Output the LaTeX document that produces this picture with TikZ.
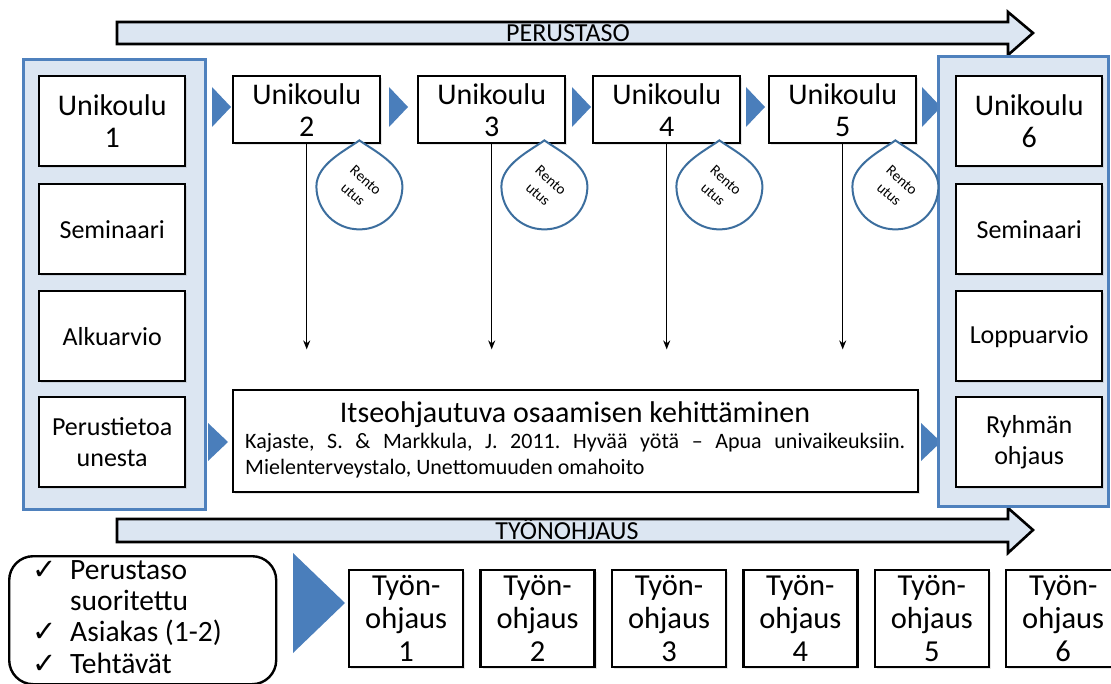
\documentclass[tikz,border=0pt]{standalone}
\usepackage{fontspec}
\setmainfont{Carlito}
\newfontfamily\checkfont{DejaVu Sans}
\usetikzlibrary{positioning,calc,arrows.meta,shadows}

\definecolor{paleblue}{HTML}{DCE6F2}
\definecolor{frameblue}{HTML}{4F81BD}
\definecolor{wedgeblue}{HTML}{4A7EBB}
\definecolor{dropblue}{HTML}{3C6E9E}

\newcommand{\fbig}{\fontsize{30}{32}\selectfont}
\newcommand{\fmid}{\fontsize{26}{31}\selectfont}
\newcommand{\fsmall}{\fontsize{22}{26}\selectfont}
\newcommand{\ftiny}{\fontsize{15}{19}\selectfont}
\newcommand{\tick}{\makebox[20pt][l]{\checkfont\fontsize{29}{29}\selectfont ✓}}

\begin{document}
\frenchspacing
\begin{tikzpicture}[x=1pt,y=-1pt]
\useasboundingbox (0,0) rectangle (1111,684);
\tikzstyle{every node}=[inner sep=0pt]
\tikzstyle{box}=[draw,line width=2.4pt,fill=white,align=center,anchor=north west,
  drop shadow={opacity=.2,shadow xshift=2pt,shadow yshift=-2pt}]
\tikzstyle{panel}=[draw=frameblue,line width=3pt,fill=paleblue]
\tikzstyle{band}=[draw,line width=2.6pt,fill=paleblue,line join=miter]
\tikzstyle{wedge}=[fill=wedgeblue]
\tikzstyle{drop}=[draw=dropblue,line width=2pt,fill=white]
\tikzstyle{down}=[line width=1.4pt,-{Stealth[length=9pt,width=7pt]}]

% level bands
\draw[band] (117,22) -- (1008,22) -- (1008,12) -- (1033,33) -- (1008,55) -- (1008,44) -- (117,44) -- cycle;
\node[anchor=base,font=\fmid] (perus) at (568,42) {PERUSTASO};
\draw[band] (117,519) -- (1008,519) -- (1008,508) -- (1033,530) -- (1008,553) -- (1008,542) -- (117,542) -- cycle;
\node[anchor=base,font=\fmid] (tyon) at (567,539) {TYÖNOHJAUS};

% wedges
\foreach \t in {231,408,591,765,941}
  \fill[wedge] (\t-19,87) -- (\t,107) -- (\t-19,127) -- cycle;
\foreach \t in {228,941}
  \fill[wedge] (\t-20,423) -- (\t,442) -- (\t-20,461) -- cycle;
\fill[wedge] (293,553) -- (345,603) -- (293,653) -- cycle;

% panels
\draw[panel] (23,60) rectangle (205,509);
\draw[panel] (938,57) rectangle (1108,506);

% first day
\node[box,minimum width=146,minimum height=90,font=\fbig] (u1) at (38,75) {Unikoulu\\1};
\node[box,minimum width=146,minimum height=90,font=\fmid] (sem1) at (38,183) {Seminaari};
\node[box,minimum width=146,minimum height=90,font=\fmid] (alku) at (38,290) {Alkuarvio};
\node[box,minimum width=146,minimum height=90,font=\fmid] (tieto) at (38,396) {Perustietoa\\unesta};

% last day
\node[box,minimum width=146,minimum height=90,font=\fbig] (u6) at (955,75) {Unikoulu\\6};
\node[box,minimum width=146,minimum height=90,font=\fmid] (sem6) at (955,183) {Seminaari};
\node[box,minimum width=146,minimum height=90,font=\fmid] (loppu) at (955,290) {Loppuarvio};
\node[box,minimum width=146,minimum height=90,font=\fmid] (ryhma) at (955,396) {Ryhmän\\ohjaus};

% sessions 2-5
\foreach \i/\x in {2/232,3/417,4/592,5/768}
  \node[box,minimum width=147,minimum height=67,font=\fbig] (u\i) at (\x,75) {Unikoulu\\\i};

\foreach \i in {2,...,5}{
  \coordinate (r\i) at ($(u\i.south east)+(-22,-4)$);
  \draw[drop] (r\i) .. controls +(14,10) and +(0,-22) .. ++(43,46)
    .. controls +(0,24) and +(24,0) .. ++(-43,43)
    .. controls +(-24,0) and +(0,24) .. ++(-43,-43)
    .. controls +(0,-22) and +(-14,10) .. (r\i) -- cycle;
  \node[rotate=-42,align=center,font=\ftiny] (rl\i) at ($(r\i)+(0,47)$) {Rento\\utus};
  \path (u\i.south) ++(0,205) coordinate (a\i);
  \draw[down] (u\i.south) -- (a\i);
}

% self-directed learning
\node[box,minimum width=685,minimum height=102] (itse) at (232,389) {};
\node[anchor=base,font=\fbig] (itsetitle) at (575,422) {Itseohjautuva osaamisen kehittäminen};
\node[anchor=base west,font=\fsmall] (itseref) at (245,448) {\parbox[t]{660pt}{Kajaste, S. \& Markkula, J. 2011. Hyvää yötä – Apua univaikeuksiin.\linebreak Mielenterveystalo, Unettomuuden omahoito}};

% checklist
\node[draw,line width=2.4pt,rounded corners=24,minimum width=267,minimum height=128,anchor=north west] (done) at (8,555) {};
\node[anchor=west,font=\fontsize{29.5}{31.3}\selectfont] (donelist) at (32,620)
  {\begin{tabular}{@{}l@{\hspace{18pt}}l@{}}
  \tick&Perustaso\\
  &suoritettu\\
  \tick&Asiakas (1-2)\\
  \tick&Tehtävät
  \end{tabular}};

% work supervision
\foreach \i in {1,...,6}
  \node[box,minimum width=114,minimum height=97,font=\fontsize{30.5}{33}\selectfont] (t\i) at ({348+131.4*(\i-1)},569) {Työn-\\ohjaus\\\i};
\end{tikzpicture}
\end{document}
